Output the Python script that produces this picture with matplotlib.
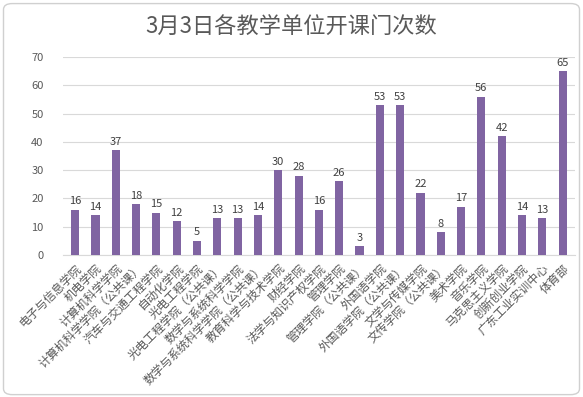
import matplotlib
matplotlib.use("Agg")
import matplotlib.pyplot as plt
from matplotlib.patches import FancyBboxPatch

plt.rcParams['font.family'] = ['Noto Sans CJK SC', 'DejaVu Sans']

categories = ["电子与信息学院", "机电学院", "计算机科学学院", "计算机科学学院（公共课）",
              "汽车与交通工程学院", "自动化学院", "光电工程学院", "光电工程学院（公共课）",
              "数学与系统科学学院", "数学与系统科学学院（公共课）", "教育科学与技术学院",
              "财经学院", "法学与知识产权学院", "管理学院", "管理学院（公共课）",
              "外国语学院", "外国语学院（公共课）", "文学与传媒学院", "文传学院（公共课）",
              "美术学院", "音乐学院", "马克思主义学院", "创新创业学院", "广东工业实训中心", "体育部"]
values = [16, 14, 37, 18, 15, 12, 5, 13, 13, 14, 30, 28, 16, 26, 3, 53, 53, 22, 8, 17, 56, 42, 14, 13, 65]
yticks = [0, 10, 20, 30, 40, 50, 60, 70]
title = "3月3日各教学单位开课门次数"

fig = plt.figure(figsize=(5.83, 3.97), dpi=100)
fig.patch.set_facecolor('white')
border = FancyBboxPatch((0.006, 0.006), 0.988, 0.985, boxstyle="round,pad=0,rounding_size=0.015",
                        transform=fig.transFigure, facecolor='none', edgecolor='#d0d0d0', lw=1.0,
                        zorder=10)
fig.patches.append(border)

ax = fig.add_axes([0.108, 0.358, 0.878, 0.498])
x = list(range(len(categories)))
bars = ax.bar(x, values, width=0.4, color='#8064A2', zorder=3)
for xi, v in zip(x, values):
    ax.text(xi, v + 1.2, str(v), ha='center', va='bottom', fontsize=8, color='#404040')

ax.set_ylim(0, 70)
ax.set_xlim(-0.6, len(categories) - 0.4)
ax.set_yticks(yticks)
ax.set_yticklabels([str(t) for t in yticks], fontsize=8, color='#595959')
ax.set_xticks(x)
ax.set_xticklabels(categories, rotation=45, ha='right', va='top', rotation_mode='anchor',
                   fontsize=8.5, color='#595959')
ax.tick_params(axis='x', length=0, pad=5)
ax.tick_params(axis='y', length=0, pad=14)
ax.grid(axis='y', color='#d9d9d9', lw=0.8, zorder=0)
for s in ['top', 'right', 'left']:
    ax.spines[s].set_visible(False)
ax.spines['bottom'].set_color('#d9d9d9')

fig.text(0.5, 0.93, title, ha='center', va='center', fontsize=16, color='#595959')

fig.savefig('out.png', dpi=100)
